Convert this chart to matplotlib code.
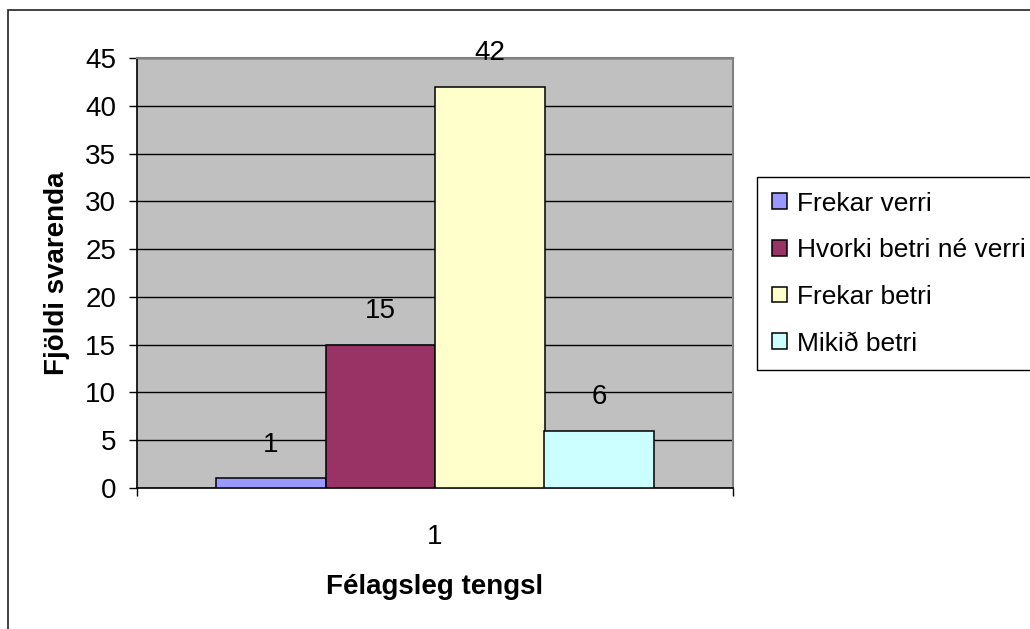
import numpy as np
import matplotlib.pyplot as plt
from matplotlib.patches import Rectangle

plt.rcParams['font.family'] = ['Liberation Sans', 'DejaVu Sans']

categories = ['1']
series = ['Frekar verri', 'Hvorki betri né verri', 'Frekar betri', 'Mikið betri']
values = [1, 15, 42, 6]
colors = ['#9999FF', '#993366', '#FFFFCC', '#CCFFFF']
yticks = [0, 5, 10, 15, 20, 25, 30, 35, 40, 45]

W, H = 1030, 629
fs = 20
fig = plt.figure(figsize=(W / 100, H / 100), dpi=100)

# outer chart frame (runs off the right and bottom edge)
fig.patches.append(Rectangle((8 / W, -0.05), 1.1, 1 - 10 / H + 0.05,
                             transform=fig.transFigure, fill=False,
                             edgecolor='#222222', linewidth=1.2))

ax = fig.add_axes([137 / W, 1 - 488 / H, (733 - 137) / W, (488 - 58) / H])
ax.set_facecolor('#C0C0C0')

bw = 109.5 / 596
x0 = 1
for i, (name, v, c) in enumerate(zip(series, values, colors)):
    xc = x0 + (i - 1.5) * bw
    ax.bar(xc, v, width=bw, color=c, edgecolor='black', linewidth=1.1,
           label=name, zorder=3)
    ax.annotate(str(v), (xc, v), xytext=(0, 24), textcoords='offset points',
                ha='center', va='center', fontsize=fs, zorder=5)

ax.set_xlim(0.5, 1.5)
ax.set_ylim(0, 45)
ax.set_yticks(yticks)
ax.set_xticks([1])
ax.set_xticklabels(categories)
ax.set_xticks([0.5, 1.5], minor=True)
ax.tick_params(axis='x', which='major', length=0, pad=26, labelsize=fs)
ax.tick_params(axis='x', which='minor', length=6, width=1, color='black', direction='out')
ax.tick_params(axis='y', length=6, width=1, color='black', pad=9, labelsize=fs)
ax.yaxis.grid(True, color='black', linewidth=1, zorder=1)
ax.set_axisbelow(True)

for s in ['top', 'right']:
    ax.spines[s].set_color('#808080')
    ax.spines[s].set_linewidth(1.5)
for s in ['left', 'bottom']:
    ax.spines[s].set_color('black')
    ax.spines[s].set_linewidth(1.2)

ax.set_ylabel('Fjöldi svarenda', fontsize=fs, fontweight='bold', labelpad=11)
ax.set_xlabel('Félagsleg tengsl', fontsize=fs, fontweight='bold', labelpad=17)

leg = ax.legend(loc='upper left', bbox_to_anchor=(757 / W, 1 - 177 / H),
                bbox_transform=fig.transFigure, borderaxespad=0,
                fontsize=19, frameon=True, fancybox=False,
                edgecolor='black', framealpha=1,
                handlelength=0.57, handleheight=0.53, handletextpad=0.38,
                labelspacing=0.86, borderpad=0.55)
leg.get_frame().set_linewidth(1.0)

fig.savefig('out.png', dpi=100)
